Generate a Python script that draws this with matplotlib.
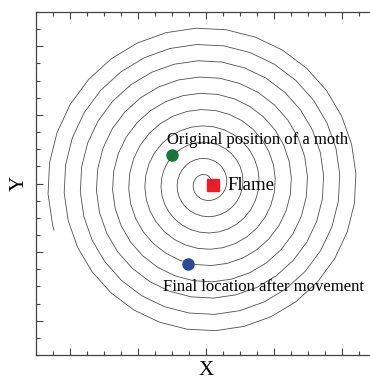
import numpy as np
import matplotlib
matplotlib.use("Agg")
import matplotlib.pyplot as plt
from matplotlib.ticker import MultipleLocator

plt.rcParams['font.family'] = ['Liberation Serif', 'DejaVu Serif']

# spiral path of the moth around the flame (Archimedean, counter-clockwise)
spiral_center = (0.0, 0.0)
turn_spacing = 0.951        # radial gap between successive turns
phase_deg = -101.0          # angle where the radius would reach zero
start_deg = 60.0
end_deg = 3437.0
step_deg = 11.25

flame = (0.44, -0.06)
moth_start = (-2.02, 1.66)
moth_end = (-1.04, -4.69)

labels = ["Original position of a moth", "Flame", "Final location after movement"]
label_pos = [(-2.29, 2.54), (1.29, -0.09), (-2.53, -6.03)]
label_size = [12, 13.5, 12]

theta = np.append(np.arange(start_deg, end_deg, step_deg), end_deg)
r = turn_spacing * (theta - phase_deg) / 360.0
sx = spiral_center[0] + r * np.cos(np.radians(theta))
sy = spiral_center[1] + r * np.sin(np.radians(theta))
sx = np.concatenate([[flame[0]], sx])
sy = np.concatenate([[flame[1]], sy])

fig = plt.figure(figsize=(3.7, 3.8), dpi=100)
ax = fig.add_axes([36 / 370, 25 / 380, 340 / 370, 343 / 380])

ax.plot(sx, sy, color='#505050', lw=0.6, zorder=3)
ax.plot(*flame, marker='s', ms=8.5, color='#ee1c25', ls='none', zorder=2)
ax.plot(*moth_start, marker='o', ms=8, color='#17783a', ls='none', zorder=2)
ax.plot(*moth_end, marker='o', ms=8, color='#2a4a9e', ls='none', zorder=2)

for txt, (tx, ty), fs in zip(labels, label_pos, label_size):
    ax.text(tx, ty, txt, fontsize=fs, ha='left', va='center', color='black', zorder=4)

ax.set_xlim(-10, 10)
ax.set_ylim(-10, 10)
ax.xaxis.set_major_locator(MultipleLocator(4))
ax.xaxis.set_minor_locator(MultipleLocator(1))
ax.yaxis.set_major_locator(MultipleLocator(4))
ax.yaxis.set_minor_locator(MultipleLocator(1))
ax.tick_params(which='both', direction='in', top=True, bottom=True, left=True, right=False,
               labelbottom=False, labelleft=False, color='#444444', width=0.8)
ax.tick_params(which='major', length=5)
ax.tick_params(which='minor', length=3)
ax.spines['right'].set_visible(False)
for side in ['left', 'top', 'bottom']:
    ax.spines[side].set_color('#444444')
    ax.spines[side].set_linewidth(0.9)

ax.set_xlabel('X', fontsize=15, labelpad=4.5)
ax.set_ylabel('Y', fontsize=15, labelpad=5)

fig.savefig('out.png', dpi=100)
